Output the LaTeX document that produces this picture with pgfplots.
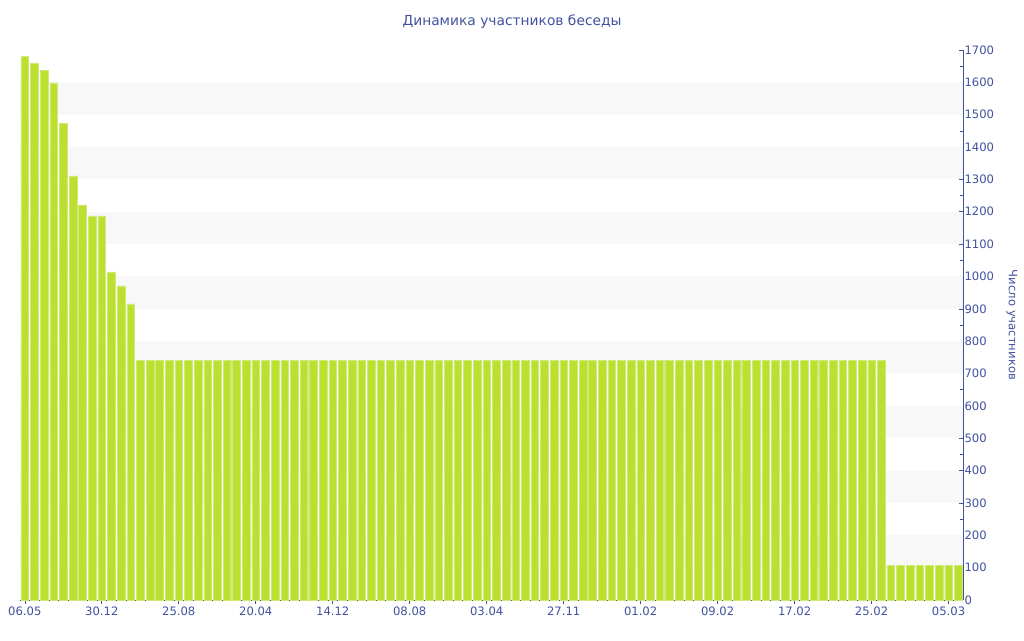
\documentclass[border=0pt]{standalone}
\usepackage{fontspec}
\setmainfont{DejaVu Sans}
\usepackage{pgfplots}
\pgfplotsset{compat=1.18}
\definecolor{axblue}{HTML}{42529E}
\definecolor{barfill}{HTML}{BDE030}
\definecolor{barline}{HTML}{D0EA78}
\definecolor{band}{HTML}{F8F8F8}
\begin{document}
\begin{tikzpicture}[x=1pt,y=1pt]
\useasboundingbox (0,0) rectangle (1024,640);
\node[text=axblue, font=\fontsize{13.8}{16}\selectfont] at (512,618) {Динамика участников беседы};
\node[text=axblue, font=\fontsize{11.6}{13}\selectfont, rotate=-90] at (1012,315) {Число участников};
\begin{axis}[
  at={(20pt,40pt)}, anchor=south west,
  width=943pt, height=550pt, scale only axis,
  xmin=-0.5, xmax=97.5, ymin=0, ymax=1700,
  axis x line*=bottom, axis y line*=right,
  axis line style={axblue, line width=0.8pt},
  xtick={0,8,...,96},
  xticklabels={06.05,30.12,25.08,20.04,14.12,08.08,03.04,27.11,01.02,09.02,17.02,25.02,05.03},
  ytick={0,100,...,1700},
  minor y tick num=1,
  x tick style={axblue, line width=0.6pt},
  y tick style={axblue, line width=0.6pt},
  xtick align=outside,
  ytick align=inside,
  major tick length=4pt,
  minor tick length=3pt,
  tick label style={font=\fontsize{11.6}{13}\selectfont, text=axblue},
  /pgf/number format/assume math mode=true,
  /pgf/number format/1000 sep={},
  yticklabel style={xshift=-2pt},
  xticklabel style={yshift=1pt},
  clip=false,
]
\fill[band] (axis cs:-0.5,100) rectangle (axis cs:97.5,200);
\fill[band] (axis cs:-0.5,300) rectangle (axis cs:97.5,400);
\fill[band] (axis cs:-0.5,500) rectangle (axis cs:97.5,600);
\fill[band] (axis cs:-0.5,700) rectangle (axis cs:97.5,800);
\fill[band] (axis cs:-0.5,900) rectangle (axis cs:97.5,1000);
\fill[band] (axis cs:-0.5,1100) rectangle (axis cs:97.5,1200);
\fill[band] (axis cs:-0.5,1300) rectangle (axis cs:97.5,1400);
\fill[band] (axis cs:-0.5,1500) rectangle (axis cs:97.5,1600);
\addplot[ybar, bar width=0.8, bar shift=0pt, fill=barfill, draw=barline, line width=0.4pt] coordinates {
(0,1680)(1,1660)(2,1638)(3,1598)(4,1474)(5,1311)(6,1221)(7,1187)(8,1187)(9,1014)
(10,971)(11,915)(12,740)(13,740)(14,740)(15,740)(16,740)(17,740)(18,740)(19,740)
(20,740)(21,740)(22,740)(23,740)(24,740)(25,740)(26,740)(27,740)(28,740)(29,740)
(30,740)(31,740)(32,740)(33,740)(34,740)(35,740)(36,740)(37,740)(38,740)(39,740)
(40,740)(41,740)(42,740)(43,740)(44,740)(45,740)(46,740)(47,740)(48,740)(49,740)
(50,740)(51,740)(52,740)(53,740)(54,740)(55,740)(56,740)(57,740)(58,740)(59,740)
(60,740)(61,740)(62,740)(63,740)(64,740)(65,740)(66,740)(67,740)(68,740)(69,740)
(70,740)(71,740)(72,740)(73,740)(74,740)(75,740)(76,740)(77,740)(78,740)(79,740)
(80,740)(81,740)(82,740)(83,740)(84,740)(85,740)(86,740)(87,740)(88,740)(89,740)
(90,108)(91,108)(92,108)(93,108)(94,108)(95,108)(96,108)(97,108)
};
\end{axis}
\end{tikzpicture}
\end{document}
